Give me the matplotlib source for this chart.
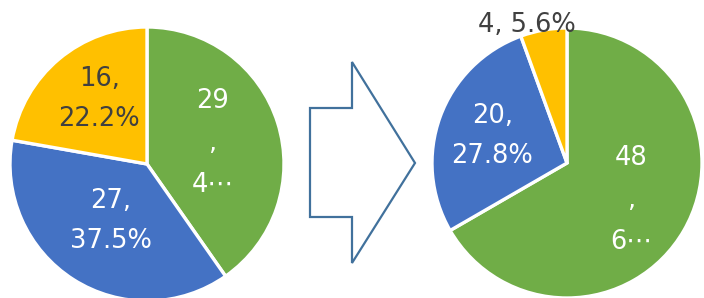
import numpy as np
import matplotlib
matplotlib.use("Agg")
import matplotlib.pyplot as plt
from matplotlib.patches import Polygon

plt.rcParams['font.family'] = ['DejaVu Sans', 'Noto Sans CJK JP']

# data
before_values = [29, 27, 16]
before_labels = ["29\n,\n4⋯", "27,\n37.5%", "16,\n22.2%"]
after_values = [48, 20, 4]
after_labels = ["48\n,\n6⋯", "20,\n27.8%", "4, 5.6%"]
colors = ["#70AD47", "#4472C4", "#FFC000"]
label_colors = ["white", "white", "#404040"]

W, H = 704, 298
fig = plt.figure(figsize=(W / 100, H / 100), dpi=100)


def pie_axes(cx, cy, r):
    # cx, cy in pixels from top-left
    ax = fig.add_axes([(cx - r) / W, (H - cy - r) / H, 2 * r / W, 2 * r / H])
    return ax


def draw_pie(ax, values, labels, dists, linesp, xshift):
    wedges, _ = ax.pie(values, colors=colors, startangle=90, counterclock=False,
                       radius=1, wedgeprops=dict(edgecolor="white", linewidth=2.4))
    ax.set_xlim(-1, 1)
    ax.set_ylim(-1, 1)
    ax.set_axis_off()
    for w, lab, d, c, ls, dx in zip(wedges, labels, dists, label_colors, linesp, xshift):
        w.set_clip_on(False)
        ang = np.deg2rad((w.theta1 + w.theta2) / 2)
        ax.text(d * np.cos(ang) + dx, d * np.sin(ang), lab, ha="center", va="center",
                color=c, fontsize=18.5, linespacing=ls, clip_on=False)


ax1 = pie_axes(147, 164, 137)
draw_pie(ax1, before_values, before_labels, [0.5, 0.49, 0.62], [1.8, 1.7, 1.7], [0, 0, 0.05])

ax2 = pie_axes(567, 163, 135)
draw_pie(ax2, after_values, after_labels, [0.55, 0.59, 1.04], [1.8, 1.7, 1.2], [0, 0, -0.12])

# arrow between the pies
axa = fig.add_axes([0, 0, 1, 1], zorder=-1)
axa.set_xlim(0, W)
axa.set_ylim(H, 0)
axa.set_axis_off()
arrow = [(310, 108), (352, 108), (352, 62), (415, 163), (352, 263), (352, 217), (310, 217)]
axa.add_patch(Polygon(arrow, closed=True, facecolor="white", edgecolor="#41719C", linewidth=1.6))

fig.savefig("out.png", dpi=100, facecolor="white")
